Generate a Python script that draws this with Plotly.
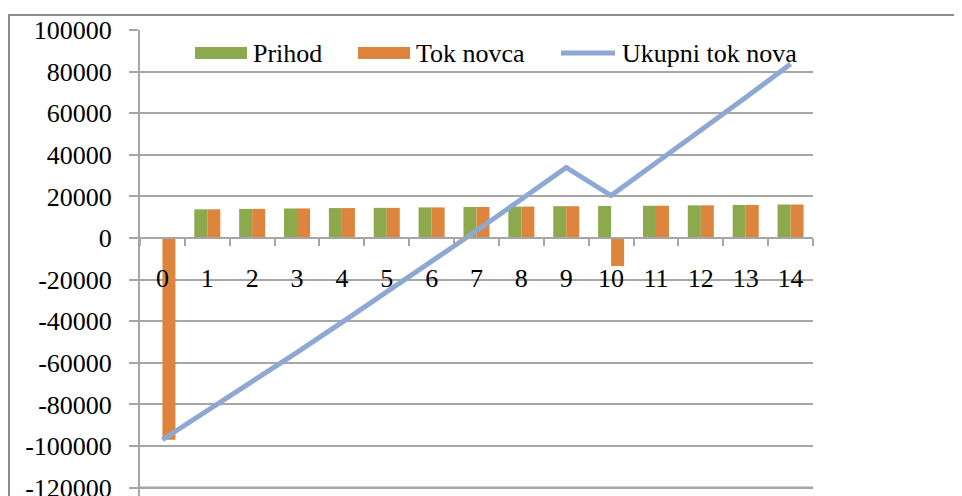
import plotly.graph_objects as go

categories = [str(i) for i in range(15)]
prihod = [0, 13800, 14000, 14200, 14400, 14500, 14700, 14900, 15100, 15300, 15400, 15500, 15700, 15900, 16100]
tok_novca = [-97000, 13800, 14000, 14200, 14400, 14500, 14700, 14900, 15100, 15300, -13500, 15500, 15700, 15900, 16100]
ukupni_tok = [-97000, -83200, -69200, -55000, -40600, -26100, -11400, 3500, 18600, 33900, 20400, 35900, 51600, 67500, 83600]
y_tickvals = [100000, 80000, 60000, 40000, 20000, 0, -20000, -40000, -60000, -80000, -100000, -120000]
y_ticktext = ["100000", "80000", "60000", "40000", "20000", "0", "-20000", "-40000", "-60000", "-80000", "-100000", "-120000"]
series_names = ["Prihod", "Tok novca", "Ukupni tok nova"]
series_colors = ["#8DA94D", "#DE853D", "#8EA8D4"]

OFF = 8  # page body margin in the browser
IMG_W, IMG_H = 962, 496
W, H = IMG_W - OFF, IMG_H - OFF
# plot area in image pixels (bottom extends to the image edge, like the reference)
PX0, PX1, PY0, PY1 = 140, 813, 30, 496
Y_TOP = 100000
Y_PER_PX = 20000 / 41.6
Y_BOT = Y_TOP - (PY1 - PY0) * Y_PER_PX
L, R, T = PX0 - OFF, W - (PX1 - OFF), PY0 - OFF
B = H - (PY1 - OFF)
pw, ph = PX1 - PX0, PY1 - PY0
FONT = "Liberation Serif"
FS = 26
GRID = "#A6A6A6"


def px(x):
    return (x - PX0) / pw


def py(y):
    return 1 - (y - PY0) / ph


fig = go.Figure()
fig.add_trace(go.Bar(name=series_names[0], x=categories, y=prihod,
                     marker=dict(color=series_colors[0], line=dict(width=0))))
fig.add_trace(go.Bar(name=series_names[1], x=categories, y=tok_novca,
                     marker=dict(color=series_colors[1], line=dict(width=0))))
fig.add_trace(go.Scatter(name=series_names[2], x=categories, y=ukupni_tok, mode="lines",
                         line=dict(color=series_colors[2], width=5)))

zero_frac = (0 - Y_BOT) / (Y_TOP - Y_BOT)

shapes = [dict(type="rect", xref="paper", yref="paper",
               x0=px(9), x1=px(975), y0=py(520), y1=py(15),
               line=dict(color="#8C8C8C", width=2), fillcolor="rgba(0,0,0,0)", layer="below")]
# lowest gridline (at the bottom tick value)
shapes.append(dict(type="line", xref="paper", yref="y", x0=0, x1=1, y0=y_tickvals[-1], y1=y_tickvals[-1],
                   line=dict(color=GRID, width=2), layer="below"))
annotations = []
# legend (drawn manually to match the wide legend keys)
leg_y = 53
shapes.append(dict(type="rect", xref="paper", yref="paper", x0=px(195), x1=px(247), y0=py(59), y1=py(47),
                   fillcolor=series_colors[0], line=dict(width=0)))
shapes.append(dict(type="rect", xref="paper", yref="paper", x0=px(358), x1=px(410), y0=py(59), y1=py(47),
                   fillcolor=series_colors[1], line=dict(width=0)))
shapes.append(dict(type="line", xref="paper", yref="paper", x0=px(561), x1=px(615), y0=py(leg_y), y1=py(leg_y),
                   line=dict(color=series_colors[2], width=5)))
for name, xs in zip(series_names, [251, 414, 620]):
    annotations.append(dict(xref="paper", yref="paper", x=px(xs), y=py(leg_y), text=name, showarrow=False,
                            xanchor="left", yanchor="middle", font=dict(family=FONT, size=FS, color="black")))

fig.update_layout(
    width=W, height=H,
    margin=dict(l=L, r=R, t=T, b=B, autoexpand=False),
    paper_bgcolor="white", plot_bgcolor="white",
    font=dict(family=FONT, size=FS, color="black"),
    barmode="group", bargap=0.42, bargroupgap=0,
    showlegend=False,
    xaxis=dict(type="category", anchor="free", position=zero_frac, automargin=False,
               showline=True, linecolor=GRID, linewidth=2,
               ticks="outside", ticklen=7, tickcolor=GRID, tickwidth=2, tickson="boundaries",
               showgrid=False, ticklabelstandoff=17, tickfont=dict(family=FONT, size=FS)),
    yaxis=dict(range=[Y_BOT, Y_TOP], tickvals=y_tickvals, ticktext=y_ticktext, automargin=False,
               showline=True, linecolor=GRID, linewidth=2,
               ticks="outside", ticklen=9, tickcolor=GRID, tickwidth=2,
               showgrid=True, gridcolor=GRID, gridwidth=2, zeroline=False,
               ticklabelstandoff=12, ticklabeloverflow="allow", tickfont=dict(family=FONT, size=FS)),
    shapes=shapes,
    annotations=annotations,
)

fig.write_html("out.html")
